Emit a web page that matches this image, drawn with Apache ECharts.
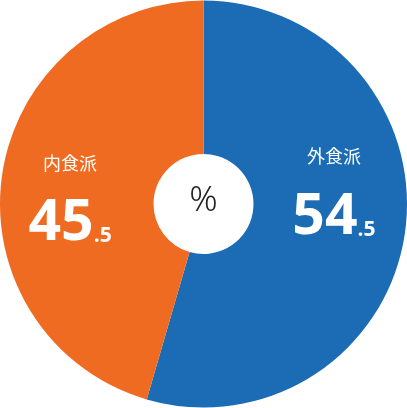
<!DOCTYPE html>
<html>
<head>
<meta charset="utf-8">
<script src="https://cdn.jsdelivr.net/npm/echarts@6/dist/echarts.min.js"></script>
<style>
html, body { margin: 0; padding: 0; background: #fff; }
#main { width: 407px; height: 408px; }
</style>
</head>
<body>
<div id="main"></div>
<script>
var names = ['外食派', '内食派'];
var values = [54.5, 45.5];
var colors = ['#1b6bb5', '#f06b22'];
// label shift per slice, via padding [top, right, bottom, left]
var pads = [[0, 0, 72, 4], [14, 10, 0, 0]];

var myChart = echarts.init(document.getElementById('main'));

var pieData = [];
for (var i = 0; i < names.length; i++) {
	pieData.push({
		name: names[i],
		value: values[i],
		itemStyle: { color: colors[i] },
		label: { padding: pads[i] }
	});
}

var option = {
	animation: false,
	backgroundColor: '#fff',
	graphic: [{
		type: 'text',
		left: 'center',
		top: 184,
		style: {
			text: '%',
			fill: '#222',
			font: '300 35px "Noto Sans", sans-serif'
		}
	}],
	series: [{
		type: 'pie',
		center: ['50%', '50%'],
		radius: [50, '100%'],
		startAngle: 90,
		clockwise: true,
		silent: true,
		emphasis: { scale: false },
		label: {
			show: true,
			position: 'inside',
			formatter: function (p) {
				var s = String(p.value).split('.');
				return '{name|' + p.name + '}\n{big|' + s[0] + '}{small|.' + s[1] + '}';
			},
			rich: {
				name: {
					color: '#fff',
					fontSize: 18,
					fontFamily: '"Noto Sans CJK JP", sans-serif',
					lineHeight: 60,
					align: 'center'
				},
				big: {
					color: '#fff',
					fontSize: 57,
					fontWeight: 'bold',
					fontFamily: '"Open Sans", "Noto Sans", sans-serif',
					lineHeight: 60,
					verticalAlign: 'bottom'
				},
				small: {
					color: '#fff',
					fontSize: 21,
					fontWeight: 'bold',
					fontFamily: '"Open Sans", "Noto Sans", sans-serif',
					lineHeight: 60,
					verticalAlign: 'bottom',
					padding: [0, 0, 6, 0]
				}
			}
		},
		labelLine: { show: false },
		data: pieData
	}]
};

myChart.setOption(option);
</script>
</body>
</html>
